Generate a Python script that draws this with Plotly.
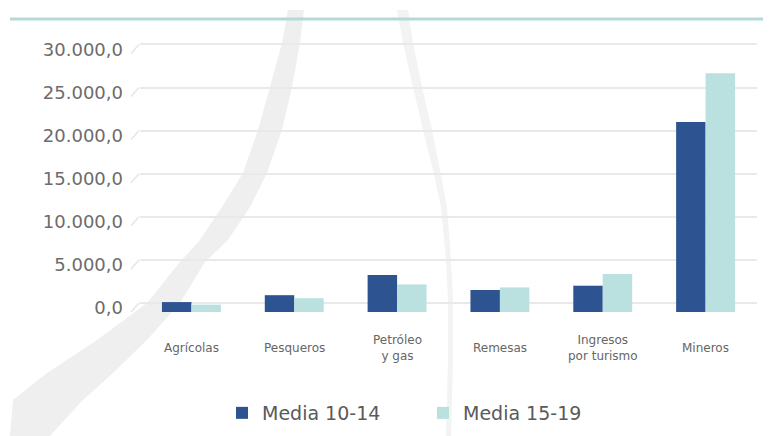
import plotly.graph_objects as go

categories = ["Agrícolas", "Pesqueros", "Petróleo<br>y gas", "Remesas", "Ingresos<br>por turismo", "Mineros"]
media_10_14 = [1150, 1950, 4300, 2550, 3050, 22050]
media_15_19 = [850, 1600, 3200, 2850, 4400, 27700]
tick_vals = [0, 5000, 10000, 15000, 20000, 25000, 30000]
series_names = ["Media 10-14", "Media 15-19"]

# the page body has an 8px margin, so the figure is drawn at (8, 8) in the window
OFF = 8
W, H = 771 - OFF, 436 - OFF
# plot area in window pixels: x PL..PR, y 30..320
PL, PR = 140, 757
L, R, T, B = PL - OFF, 771 - PR, 30 - OFF, 436 - 320
PW, PH = W - L - R, H - T - B
PX_PER = 8.62 / 1000.0
y_lo = -(320 - 312) / PX_PER
y_hi = y_lo + PH / PX_PER
shift = 9 / PX_PER


def px(x):
    # window pixel x -> paper
    return (x - PL) / PW


def py(y):
    # window pixel y -> paper
    return (320 - y) / PH


DARK = "#2D5391"
LIGHT = "#BAE0DF"

fig = go.Figure()
fig.add_trace(go.Bar(x=categories, y=media_10_14, name=series_names[0], marker_color=DARK, marker_line_width=0))
fig.add_trace(go.Bar(x=categories, y=media_15_19, name=series_names[1], marker_color=LIGHT, marker_line_width=0))
# invisible trace to host the back-wall gridlines
fig.add_trace(go.Scatter(x=categories, y=[None] * len(categories), yaxis="y2", showlegend=False, hoverinfo="skip"))

shapes = []
# decorative swooshes
s1_left = [(288, 10), (282, 43), (270, 87), (258, 130), (243, 173), (222, 207), (200, 240), (180, 262),
           (147, 303), (97, 340), (47, 373), (13, 400), (10, 436)]
s1_right = [(304, 10), (300, 43), (292, 87), (282, 130), (267, 173), (250, 207), (228, 240), (205, 262),
            (180, 303), (147, 340), (113, 373), (83, 400), (50, 436)]
pts = s1_left + list(reversed(s1_right))
path = "M " + " L ".join(f"{px(x):.4f},{py(y):.4f}" for x, y in pts) + " Z"
shapes.append(dict(type="path", path=path, xref="paper", yref="paper", fillcolor="#efefef", line_width=0, layer="below"))
s2_left = [(397, 10), (403, 43), (413, 87), (423, 130), (433, 170), (441, 207), (446, 260), (448, 300), (448, 360), (446, 436)]
s2_right = [(408, 10), (413, 43), (422, 87), (432, 130), (440, 170), (447, 207), (451, 260), (453, 300), (453, 360), (451, 436)]
pts = s2_left + list(reversed(s2_right))
path = "M " + " L ".join(f"{px(x):.4f},{py(y):.4f}" for x, y in pts) + " Z"
shapes.append(dict(type="path", path=path, xref="paper", yref="paper", fillcolor="#f3f3f3", line_width=0, layer="below"))
# top teal rule
shapes.append(dict(type="line", xref="paper", yref="paper", x0=px(10), x1=px(771), y0=py(19), y1=py(19),
                   line=dict(color="#B3DAD8", width=3)))
# side-wall slashes of the gridlines
for v in tick_vals:
    shapes.append(dict(type="line", xref="paper", yref="y", x0=px(131), x1=px(139), y0=v, y1=v + shift,
                       line=dict(color="#e6e6e6", width=1.5)))

annotations = []
for c in categories:
    annotations.append(dict(x=c, y=py(348), xref="x", yref="paper", text=c, showarrow=False,
                            yanchor="middle", xanchor="center",
                            font=dict(family="DejaVu Sans", size=12, color="#666666")))

fig.update_layout(
    width=W, height=H,
    margin=dict(l=L, r=R, t=T, b=B, autoexpand=False),
    paper_bgcolor="white", plot_bgcolor="rgba(0,0,0,0)",
    separators=",.",
    barmode="group", bargap=0.427, bargroupgap=0,
    shapes=shapes, annotations=annotations,
    xaxis=dict(showticklabels=False, showgrid=False, zeroline=False, showline=False, ticks=""),
    yaxis=dict(range=[y_lo, y_hi], tickvals=tick_vals, tickformat=",.1f", showgrid=False, zeroline=False,
               showline=False, ticks="", ticklabelstandoff=16, ticklabelshift=-4,
               tickfont=dict(family="DejaVu Sans", size=18, color="#6c6c6c")),
    yaxis2=dict(range=[y_lo - shift, y_hi - shift], overlaying="y", tickvals=tick_vals, showgrid=True,
                gridcolor="#e9e9e9", gridwidth=1.5, showticklabels=False, zeroline=False, showline=False),
    legend=dict(orientation="h", x=px(222), xanchor="left", y=py(413), yanchor="middle",
                entrywidth=156, itemwidth=30,
                font=dict(family="DejaVu Sans", size=19, color="#5a5a5a"), bgcolor="rgba(0,0,0,0)"),
    showlegend=True,
)

fig.write_html("out.html")
